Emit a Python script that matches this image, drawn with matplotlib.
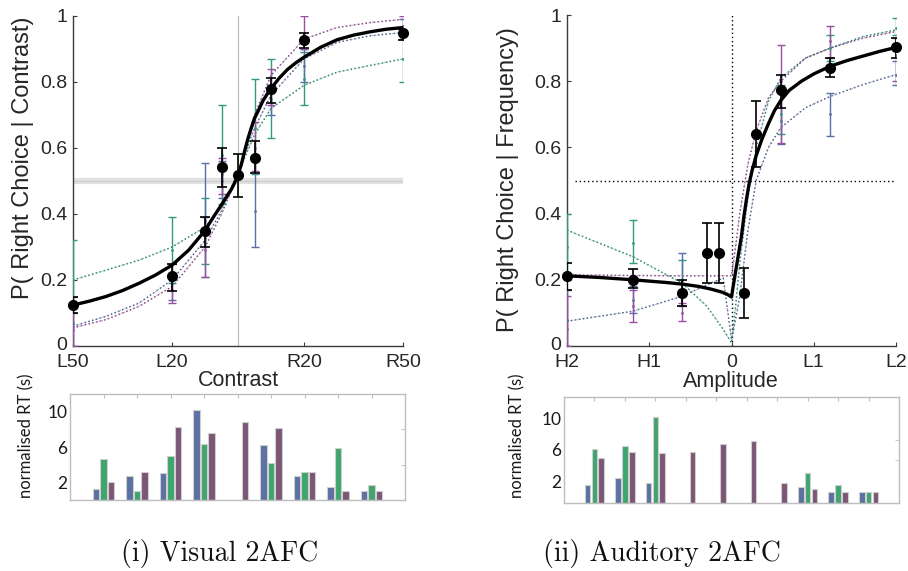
import matplotlib
matplotlib.use("Agg")
import matplotlib.pyplot as plt
import matplotlib.transforms as mtransforms
import numpy as np

# ---------------- Visual 2AFC: choice probabilities ----------------
vis_levels = [-50, -20, -10, -5, 0, 5, 10, 20, 50]
vis_ticks = [-50, -20, 20, 50]
vis_ticklabels = ["L50", "L20", "R20", "R50"]

vis_pooled = [0.124, 0.212, 0.348, 0.542, 0.517, 0.571, 0.778, 0.927, 0.949]
vis_pooled_lo = [0.10, 0.167, 0.301, 0.483, 0.453, 0.523, 0.735, 0.902, 0.927]
vis_pooled_hi = [0.15, 0.248, 0.392, 0.601, 0.582, 0.622, 0.813, 0.950, 0.962]

vis_subj_levels = [-50, -20, -10, -5, 5, 10, 20, 50]
vis_s1 = [0.20, 0.29, 0.35, 0.58, 0.66, 0.75, 0.81, 0.87]
vis_s1_lo = [0.10, 0.19, 0.25, 0.43, 0.52, 0.63, 0.73, 0.80]
vis_s1_hi = [0.32, 0.39, 0.45, 0.73, 0.81, 0.87, 0.89, 0.94]
vis_s2 = [0.07, 0.19, 0.38, 0.50, 0.41, 0.74, 0.85, 0.95]
vis_s2_lo = [0.00, 0.14, 0.21, 0.45, 0.30, 0.70, 0.80, 0.93]
vis_s2_hi = [0.15, 0.25, 0.555, 0.56, 0.56, 0.79, 0.90, 0.99]
vis_s3 = [0.05, 0.17, 0.29, 0.52, 0.60, 0.78, 0.95, 0.97]
vis_s3_lo = [0.00, 0.13, 0.21, 0.46, 0.53, 0.73, 0.90, 0.93]
vis_s3_hi = [0.13, 0.22, 0.39, 0.57, 0.68, 0.84, 1.00, 1.00]

# fitted psychometric curves (pooled and per subject)
vis_fit_x = [-50, -45, -40, -35, -30, -25, -20, -15, -10, -7.5, -5, -3.5, -2, -1, 0, 1, 2,
             3, 4, 5, 6, 7.5, 9, 10, 12.5, 15, 17.5, 20, 25, 30, 35, 40, 45, 50]
vis_fit = [0.124, 0.136, 0.15, 0.168, 0.19, 0.215, 0.245, 0.29, 0.35, 0.39, 0.428, 0.452,
           0.475, 0.495, 0.518, 0.55, 0.59, 0.628, 0.66, 0.69, 0.71, 0.742, 0.766, 0.78,
           0.812, 0.838, 0.858, 0.875, 0.905, 0.928, 0.942, 0.952, 0.96, 0.965]
vis_sfit_x = [-50, -40, -30, -20, -10, -5, -2, 0, 2, 5, 10, 20, 30, 40, 50]
vis_sfit1 = [0.20, 0.23, 0.26, 0.30, 0.36, 0.42, 0.47, 0.52, 0.57, 0.64, 0.72, 0.79, 0.83, 0.85, 0.87]
vis_sfit2 = [0.06, 0.09, 0.13, 0.20, 0.32, 0.41, 0.48, 0.53, 0.58, 0.66, 0.76, 0.87, 0.92, 0.94, 0.95]
vis_sfit3 = [0.055, 0.08, 0.12, 0.18, 0.30, 0.40, 0.47, 0.52, 0.60, 0.70, 0.82, 0.93, 0.965, 0.98, 0.99]

# ---------------- Auditory 2AFC: choice probabilities ----------------
aud_levels = [-2, -1.2, -0.6, -0.3, -0.15, 0.15, 0.3, 0.6, 1.2, 2]
aud_ticks = [-2, -1, 0, 1, 2]
aud_ticklabels = ["H2", "H1", "0", "L1", "L2"]

aud_pooled = [0.212, 0.20, 0.159, 0.28, 0.28, 0.159, 0.639, 0.772, 0.84, 0.902]
aud_pooled_lo = [0.17, 0.174, 0.12, 0.19, 0.19, 0.084, 0.54, 0.72, 0.812, 0.87]
aud_pooled_hi = [0.25, 0.232, 0.20, 0.371, 0.371, 0.235, 0.739, 0.82, 0.87, 0.93]

aud_subj_levels = [-2, -1.2, -0.6, 0.6, 1.2, 2]
aud_s1 = [0.30, 0.31, 0.20, 0.70, 0.90, 0.96]
aud_s1_lo = [0.20, 0.25, 0.15, 0.64, 0.86, 0.94]
aud_s1_hi = [0.40, 0.38, 0.26, 0.79, 0.94, 0.99]
aud_s2 = [0.08, 0.14, 0.20, 0.68, 0.70, 0.82]
aud_s2_lo = [0.00, 0.10, 0.12, 0.61, 0.635, 0.79]
aud_s2_hi = [0.17, 0.18, 0.28, 0.77, 0.764, 0.86]
aud_s3 = [0.05, 0.12, 0.10, 0.80, 0.92, 0.88]
aud_s3_lo = [0.00, 0.074, 0.075, 0.613, 0.87, 0.80]
aud_s3_hi = [0.15, 0.17, 0.13, 0.91, 0.966, 0.93]

aud_fit_x = [-2, -1.6, -1.2, -0.8, -0.6, -0.4, -0.25, -0.12, -0.05, 0, 0.03, 0.06, 0.09,
             0.12, 0.15, 0.18, 0.21, 0.25, 0.3, 0.37, 0.45, 0.52, 0.6, 0.7, 0.85, 1.0,
             1.2, 1.4, 1.6, 1.8, 2]
aud_fit = [0.212, 0.207, 0.200, 0.192, 0.187, 0.180, 0.172, 0.163, 0.156, 0.148, 0.195,
           0.24, 0.285, 0.33, 0.39, 0.44, 0.485, 0.53, 0.575, 0.625, 0.672, 0.71, 0.742,
           0.772, 0.80, 0.822, 0.845, 0.862, 0.876, 0.89, 0.902]
aud_sfit_x = [-2, -1.2, -0.6, -0.3, -0.1, 0, 0.05, 0.1, 0.2, 0.3, 0.45, 0.6, 0.9, 1.2, 1.6, 2]
aud_sfit1 = [0.35, 0.27, 0.19, 0.12, 0.05, 0.01, 0.12, 0.25, 0.45, 0.60, 0.74, 0.81, 0.87, 0.90, 0.935, 0.955]
aud_sfit2 = [0.075, 0.105, 0.15, 0.185, 0.205, 0.02, 0.08, 0.15, 0.35, 0.50, 0.60, 0.66, 0.72, 0.754, 0.79, 0.82]
aud_sfit3 = [0.215, 0.213, 0.212, 0.212, 0.212, 0.212, 0.30, 0.40, 0.55, 0.65, 0.75, 0.80, 0.87, 0.90, 0.93, 0.95]

# ---------------- normalised reaction times ----------------
vis_rt_blue = [1.28, 2.72, 3.09, 10.23, 0.0, 6.23, 2.72, 1.51, 1.02]
vis_rt_green = [4.64, 1.02, 4.98, 6.34, 0.0, 4.19, 3.17, 5.89, 1.66]
vis_rt_purple = [2.04, 3.17, 8.23, 7.55, 8.83, 8.19, 3.17, 1.02, 1.02]

aud_rt_blue = [1.49, 2.38, 1.83, 0.0, 0.0, 0.0, 0.0, 1.23, 0.68, 0.64]
aud_rt_green = [6.17, 6.47, 10.21, 0.0, 0.0, 0.0, 0.0, 3.02, 1.49, 0.64]
aud_rt_purple = [4.94, 5.70, 5.57, 5.74, 6.72, 7.11, 1.79, 0.98, 0.68, 0.64]

rt_label_vals = [2, 6, 10]

# ---------------- styling ----------------
W, H = 908, 571
SANS = ["Liberation Sans", "DejaVu Sans"]
TXT = "#262626"
C_TEAL = "#2f9b7c"
C_BLUE = "#5a6fa3"
C_PURP = "#9a50a0"
BAR_BLUE = "#5b70a3"
BAR_GREEN = "#3fa56f"
BAR_PURP = "#7c5675"

fig = plt.figure(figsize=(W / 100, H / 100), dpi=100)


def px_axes(x0, y0, x1, y1):
    return fig.add_axes([x0 / W, 1 - y1 / H, (x1 - x0) / W, (y1 - y0) / H])


def style_psych(ax, xlim, ticks, ticklabels):
    ax.set_xlim(*xlim)
    ax.set_ylim(0, 1)
    ax.set_xticks(ticks)
    ax.set_xticklabels(ticklabels)
    ax.set_yticks([0, 0.2, 0.4, 0.6, 0.8, 1.0])
    ax.set_yticklabels(["0", "0.2", "0.4", "0.6", "0.8", "1"])
    for s in ("top", "right"):
        ax.spines[s].set_visible(False)
    for s in ("left", "bottom"):
        ax.spines[s].set_color("#3a3a3a")
        ax.spines[s].set_linewidth(1.0)
    ax.tick_params(direction="in", length=3, width=0.8, colors="#3a3a3a",
                   labelcolor=TXT, labelsize=14)
    ax.tick_params(axis="x", pad=6)
    ax.tick_params(axis="y", pad=4)
    for lab in ax.get_xticklabels() + ax.get_yticklabels():
        lab.set_family(SANS)
    # lift the "0" label slightly so it clears the first x tick label
    zero_lab = ax.yaxis.get_major_ticks()[0].label1
    zero_lab.set_transform(zero_lab.get_transform() +
                           mtransforms.ScaledTranslation(0, 3 / 100, fig.dpi_scale_trans))
    ax.patch.set_alpha(0)


def subj_errorbars(ax, xs, sets):
    for (c, lo, hi, col) in sets:
        c = np.array(c); lo = np.array(lo); hi = np.array(hi)
        ax.errorbar(xs, c, yerr=[c - lo, hi - c], fmt=".", ms=2, color=col,
                    ecolor=col, elinewidth=1.0, capsize=3, capthick=1.0, zorder=3)


def subj_fits(ax, xs, fits):
    for yv, col in fits:
        ax.plot(xs, yv, color=col, lw=1.1, ls=(0, (1, 1.6)), zorder=2)
        ax.plot(xs, yv, color="#333333", lw=0.6, ls=(0, (1, 3)), zorder=2, alpha=0.6)


# ---- top-left: visual ----
ax1 = px_axes(73, 16, 403, 346)
ax1.axvline(0, color="#bdbdbd", lw=0.9, zorder=1)
ax1.axhline(0.5, color="#e2e2e2", lw=4.5, zorder=1)
ax1.axhline(0.5, color="#cfcfcf", lw=1.0, zorder=1)
subj_fits(ax1, vis_sfit_x, [(vis_sfit1, C_TEAL), (vis_sfit2, C_BLUE), (vis_sfit3, C_PURP)])
subj_errorbars(ax1, vis_subj_levels, [
    (vis_s1, vis_s1_lo, vis_s1_hi, C_TEAL),
    (vis_s2, vis_s2_lo, vis_s2_hi, C_BLUE),
    (vis_s3, vis_s3_lo, vis_s3_hi, C_PURP),
])
vp = np.array(vis_pooled)
ax1.errorbar(vis_levels, vp, yerr=[vp - np.array(vis_pooled_lo), np.array(vis_pooled_hi) - vp],
             fmt="none", ecolor="black", elinewidth=1.2, capsize=3.5, capthick=1.2, zorder=4)
ax1.plot(vis_fit_x, vis_fit, color="black", lw=2.4, zorder=5, solid_joinstyle="round")
ax1.plot(vis_levels, vis_pooled, "o", color="black", ms=7, zorder=6, clip_on=False)
style_psych(ax1, (-50, 50), vis_ticks, vis_ticklabels)

fig.text(23 / W, 1 - 158 / H, "P( Right Choice | Contrast)", rotation=90, ha="center",
         va="center", fontsize=17, color=TXT, family=SANS)
fig.text(238 / W, 1 - 380 / H, "Contrast", ha="center", va="center", fontsize=15.5,
         color=TXT, family=SANS)

# ---- top-right: auditory ----
ax2 = px_axes(567, 15, 896, 346)
ax2.plot([0, 0], [0, 1], color="black", lw=1.0, ls=(0, (1, 2)), zorder=1)
ax2.plot([-1.9, 2], [0.5, 0.5], color="black", lw=1.0, ls=(0, (1, 2)), zorder=1)
subj_fits(ax2, aud_sfit_x, [(aud_sfit1, C_TEAL), (aud_sfit2, C_BLUE), (aud_sfit3, C_PURP)])
subj_errorbars(ax2, aud_subj_levels, [
    (aud_s1, aud_s1_lo, aud_s1_hi, C_TEAL),
    (aud_s2, aud_s2_lo, aud_s2_hi, C_BLUE),
    (aud_s3, aud_s3_lo, aud_s3_hi, C_PURP),
])
ap = np.array(aud_pooled)
ax2.errorbar(aud_levels, ap, yerr=[ap - np.array(aud_pooled_lo), np.array(aud_pooled_hi) - ap],
             fmt="none", ecolor="black", elinewidth=1.2, capsize=3.5, capthick=1.2, zorder=4)
ax2.plot(aud_fit_x, aud_fit, color="black", lw=2.4, zorder=5, solid_joinstyle="round")
ax2.plot(aud_levels, aud_pooled, "o", color="black", ms=7, zorder=6, clip_on=False)
style_psych(ax2, (-2, 2), aud_ticks, aud_ticklabels)

fig.text(508 / W, 1 - 180 / H, "P( Right Choice | Frequency)", rotation=90, ha="center",
         va="center", fontsize=17, color=TXT, family=SANS)
fig.text(731 / W, 1 - 381 / H, "Amplitude", ha="center", va="center", fontsize=15.5,
         color=TXT, family=SANS)


# ---- bottom: reaction time bars ----
def rt_bars(ax, blue, green, purple, ylim, minor):
    n = len(blue)
    x = np.arange(1, n + 1)
    off, w = 0.225, 0.185
    base = ylim[0]
    for vals, dx, col in ((blue, -off, BAR_BLUE), (green, 0, BAR_GREEN), (purple, off, BAR_PURP)):
        v = np.array(vals)
        show = v > 0
        ax.bar(x[show] + dx, v[show] - base, bottom=base, width=w, color=col,
               edgecolor="#cfcfcf", linewidth=0.8, zorder=2)
    ax.set_xlim(0, n + 1)
    ax.set_ylim(*ylim)
    ax.set_xticks(x)
    ax.set_yticks(rt_label_vals)
    ax.set_yticks(minor, minor=True)
    for s in ax.spines.values():
        s.set_color("#bdbdbd")
        s.set_linewidth(1.0)
    ax.tick_params(axis="x", which="major", direction="in", length=3, color="#bdbdbd",
                   bottom=False, top=True, labelbottom=False)
    ax.tick_params(axis="y", which="major", length=0, labelsize=12.5, labelcolor="#1a1a1a", pad=2)
    ax.tick_params(axis="y", which="minor", direction="in", length=3, color="#bdbdbd",
                   left=False, right=True)
    for lab in ax.get_yticklabels():
        lab.set_family(["Lato", "DejaVu Sans"])


ax3 = px_axes(70, 394, 405, 500)
rt_bars(ax3, vis_rt_blue, vis_rt_green, vis_rt_purple, (0, 12), [2, 4, 6, 8, 10])
ax4 = px_axes(564, 397, 899, 503)
rt_bars(ax4, aud_rt_blue, aud_rt_green, aud_rt_purple, (-0.77, 12.76), [2, 4.68, 7.32, 10])

fig.text(26 / W, 1 - 436 / H, "normalised RT (s)", rotation=90, ha="center", va="center",
         fontsize=12, color="#1a1a1a", family=["Lato", "DejaVu Sans"])
fig.text(517 / W, 1 - 436 / H, "normalised RT (s)", rotation=90, ha="center", va="center",
         fontsize=12, color="#1a1a1a", family=["Lato", "DejaVu Sans"])

# captions
fig.text(220 / W, 1 - 553 / H, "(i) Visual 2AFC", ha="center", va="center", fontsize=20,
         color="#111111", family=["cmr10", "DejaVu Serif"])
fig.text(662 / W, 1 - 553 / H, "(ii) Auditory 2AFC", ha="center", va="center", fontsize=20,
         color="#111111", family=["cmr10", "DejaVu Serif"])

fig.savefig("out.png", dpi=100)
